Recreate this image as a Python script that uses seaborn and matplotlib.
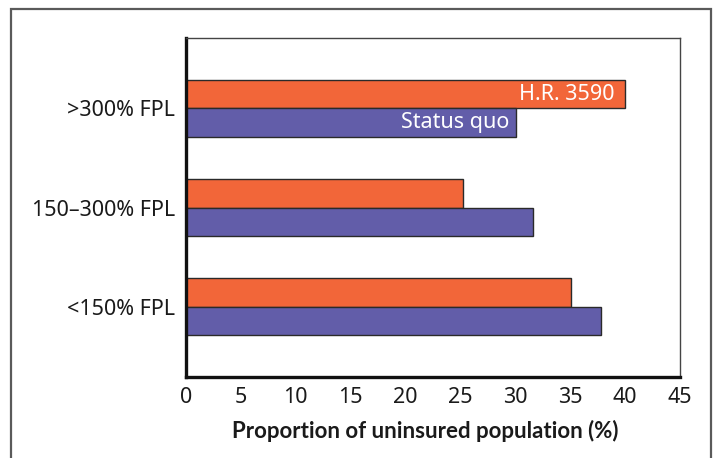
import matplotlib
matplotlib.use("Agg")
import matplotlib.pyplot as plt
import seaborn as sns
import pandas as pd
from matplotlib.patches import Rectangle

# Income groups (top to bottom) and uninsured share under each scenario
categories = [">300% FPL", "150\u2013300% FPL", "<150% FPL"]
series_names = ["H.R. 3590", "Status quo"]
hr3590 = [40.0, 25.2, 35.1]
status_quo = [30.1, 31.6, 37.8]
x_ticks = [0, 5, 10, 15, 20, 25, 30, 35, 40, 45]
x_label = "Proportion of uninsured population (%)"

colors = {"H.R. 3590": "#F26639", "Status quo": "#625DA9"}

df = pd.DataFrame({
    "group": categories * 2,
    "scenario": [series_names[0]] * 3 + [series_names[1]] * 3,
    "value": hr3590 + status_quo,
})

sns.set_theme(style="white")
plt.rcParams["font.family"] = ["Noto Sans", "DejaVu Sans"]

FS = 15.5

fig = plt.figure(figsize=(7.17, 4.58), dpi=100)
ax = fig.add_axes([186 / 717, 1 - 377 / 458, (680 - 186) / 717, (377 - 38) / 458])

sns.barplot(data=df, x="value", y="group", hue="scenario", order=categories,
            hue_order=series_names, palette=colors, orient="h", width=0.575,
            edgecolor="#2a2a2a", linewidth=1.0, saturation=1, legend=False, ax=ax)

ax.set_xlim(0, 45)
ax.set_ylim(2.71, -0.71)
ax.set_xticks(x_ticks)
ax.set_xticklabels([str(t) for t in x_ticks], fontsize=FS, color="#1a1a1a")
ax.tick_params(axis="x", direction="in", length=15, width=1.1, color="#1a1a1a", pad=7)
ax.tick_params(axis="y", length=0, pad=8, labelsize=FS, labelcolor="#1a1a1a")
ax.set_ylabel("")
ax.set_xlabel("")

# Axis title, centred slightly left of the plot centre
fig.text(425 / 717, 1 - 431 / 458, x_label, ha="center", va="center",
         fontsize=16, fontweight="bold", family=["Lato", "DejaVu Sans"], color="#1a1a1a")

for side in ["left", "bottom"]:
    ax.spines[side].set_color("#111111")
    ax.spines[side].set_linewidth(2.4)
for side in ["top", "right"]:
    ax.spines[side].set_color("#444444")
    ax.spines[side].set_linewidth(1.0)

# Series names written inside the top pair of bars
bar_h = 0.575 / 2
ax.text(hr3590[0] - 1.0, 0 - bar_h / 2, series_names[0], color="white",
        fontsize=FS, ha="right", va="center")
ax.text(status_quo[0] - 0.6, 0 + bar_h / 2, series_names[1], color="white",
        fontsize=FS, ha="right", va="center")

# Outer frame around the figure panel
fig.patches.append(Rectangle((11 / 717, -0.05), (711 - 11) / 717, 1 - 9 / 458 + 0.05,
                             transform=fig.transFigure, fill=False,
                             edgecolor="#5a5a5a", linewidth=1.6, clip_on=False))

fig.savefig("out.png", dpi=100)
